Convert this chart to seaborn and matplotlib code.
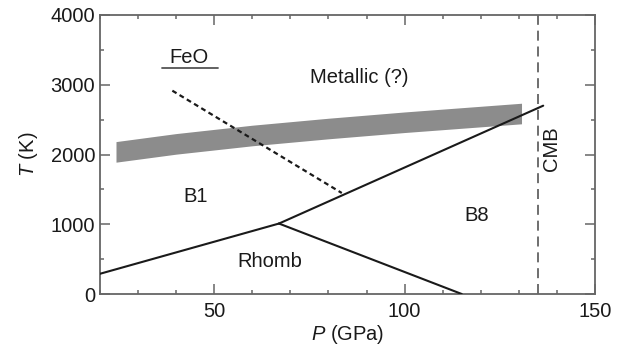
import matplotlib
matplotlib.use("Agg")
import matplotlib.pyplot as plt
import seaborn as sns
import pandas as pd
from matplotlib.ticker import MultipleLocator

# Melting band of FeO (T range vs P)
band_p = [24.2, 40, 60, 80, 100, 130.7]
band_top = [2185, 2300, 2420, 2520, 2610, 2735]
band_bottom = [1890, 2005, 2125, 2225, 2315, 2440]

# Phase boundaries
b1_rhomb_p = [20, 67]
b1_rhomb_t = [290, 1010]
b1_b8_p = [67, 136.4]
b1_b8_t = [1010, 2700]
rhomb_b8_p = [67, 115]
rhomb_b8_t = [1010, 0]

# Insulator-metal transition (dotted)
metal_p = [39, 83.5]
metal_t = [2915, 1448]

# Core-mantle boundary pressure
cmb_p = 135

sns.set_theme(style="ticks")
plt.rcParams["font.family"] = ["Liberation Sans", "DejaVu Sans"]
plt.rcParams["mathtext.fontset"] = "custom"
plt.rcParams["mathtext.it"] = "Liberation Sans:italic"
plt.rcParams["mathtext.rm"] = "Liberation Sans"

FS = 14.5
spine_c = "#666666"

fig = plt.figure(figsize=(6.21, 3.47), dpi=100)
ax = fig.add_axes([100 / 621, 1 - 294 / 347, 495 / 621, 279 / 347])

ax.fill_between(band_p, band_bottom, band_top, color="#8c8c8c", linewidth=0, zorder=1)

solid = pd.DataFrame({
    "P": b1_rhomb_p + b1_b8_p + rhomb_b8_p,
    "T": b1_rhomb_t + b1_b8_t + rhomb_b8_t,
    "seg": ["a"] * 2 + ["b"] * 2 + ["c"] * 2,
})
sns.lineplot(data=solid, x="P", y="T", units="seg", estimator=None, sort=False,
             color="#1a1a1a", linewidth=1.5, ax=ax, zorder=3)

dotted = pd.DataFrame({"P": metal_p, "T": metal_t})
sns.lineplot(data=dotted, x="P", y="T", estimator=None, sort=False,
             color="#1a1a1a", linewidth=1.6, ax=ax, zorder=3,
             linestyle=(0, (2.2, 1.6)))

ax.axvline(cmb_p, color="#555555", linewidth=1.2, linestyle=(0, (6, 3.5)), zorder=2)

ax.set_xlim(20, 150)
ax.set_ylim(0, 4000)
ax.xaxis.set_major_locator(MultipleLocator(50))
ax.xaxis.set_minor_locator(MultipleLocator(10))
ax.yaxis.set_major_locator(MultipleLocator(1000))
ax.yaxis.set_minor_locator(MultipleLocator(500))

ax.tick_params(which="both", direction="in", top=True, right=True,
               color=spine_c, width=1.1, labelsize=FS, labelcolor="#1a1a1a")
ax.tick_params(which="major", length=7)
ax.tick_params(which="minor", length=3.2)
ax.tick_params(axis="x", which="major", pad=5.5)
ax.tick_params(axis="y", which="major", pad=3.5)
for s in ax.spines.values():
    s.set_visible(True)
    s.set_color(spine_c)
    s.set_linewidth(1.3)

ax.set_xlabel("$P$ (GPa)", fontsize=FS, color="#1a1a1a")
ax.set_ylabel("$T$ (K)", fontsize=FS, color="#1a1a1a")
ax.xaxis.set_label_coords(0.5, -0.104)
ax.yaxis.set_label_coords(-0.121, 0.5)

txt = dict(fontsize=FS, color="#1a1a1a", ha="center", va="center")
ax.text(43.4, 3393, "FeO", **txt)
ax.plot([36.2, 50.9], [3236, 3236], color="#555555", linewidth=1.3)
ax.text(88, 3097, "Metallic (?)", **txt)
ax.text(45, 1405, "B1", **txt)
ax.text(64.6, 459, "Rhomb", **txt)
ax.text(119, 1122, "B8", **txt)
ax.text(138.6, 2079, "CMB", rotation=90, **txt)

fig.savefig("out.png", dpi=100)
